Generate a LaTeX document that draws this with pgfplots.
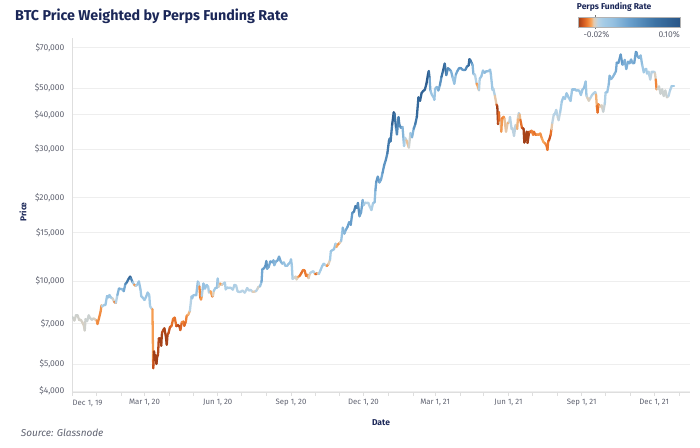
\documentclass[border=0pt]{standalone}
\usepackage{fontspec}
\setmainfont{Fira Sans}
\usepackage{pgfplots}
\usepackage{pgfplotstable}
\pgfplotsset{compat=1.18}
\definecolor{navy}{RGB}{27,39,88}
\definecolor{tickgray}{RGB}{95,98,112}
\definecolor{gridc}{RGB}{238,238,238}
\definecolor{axc}{RGB}{222,222,222}
\pgfplotsset{colormap={orbl}{
 rgb255(0pt)=(158,62,24)
 rgb255(5pt)=(205,85,30)
 rgb255(10pt)=(235,120,45)
 rgb255(15pt)=(248,165,90)
 rgb255(18pt)=(225,205,182)
 rgb255(20pt)=(212,208,198)
 rgb255(23pt)=(185,211,229)
 rgb255(30pt)=(163,203,230)
 rgb255(40pt)=(150,193,225)
 rgb255(60pt)=(105,160,205)
 rgb255(90pt)=(60,115,165)
 rgb255(120pt)=(40,85,135)
}}
\pgfplotstableread{
d p f
0 7420 1
2 7300 1
3 7190 0
5 7510 1
7 7510 1
9 7220 0
11 7240 0
13 7080 0
15 6880 -1
16 6620 0
17 7280 1
19 7150 1
21 7510 1
23 7320 1
25 7240 1
27 7320 0
29 7260 0
31 7200 -3
32 6985 -10
34 7350 -6
36 7770 -10
37 8160 -4
38 8080 3
40 8180 10
42 8190 10
44 8820 20
46 8720 15
47 8900 20
49 8700 10
51 8650 8
53 8390 -8
55 8330 -10
57 8900 20
59 9390 35
61 9350 30
63 9340 25
65 9180 20
67 9750 50
69 9900 60
71 10170 70
73 10370 90
74 10240 80
76 9900 30
78 9700 -5
80 9600 -8
82 9690 15
84 9960 20
86 9310 15
87 8790 12
89 8700 15
91 8530 12
93 8760 15
95 9080 18
97 8900 12
98 8110 8
100 7930 3
101 7910 0
102 4830 -12
103 5560 -20
104 5170 -20
105 5390 -19
106 5010 -20
107 5330 -20
108 5410 -18
109 6190 -17
110 6200 -19
111 6190 -20
112 5830 -20
113 6490 -18
115 6670 -16
116 6740 -18
118 6250 -20
119 5880 -20
120 6430 -18
121 6440 -16
123 6810 -15
125 6870 -12
127 7300 -10
129 7370 -8
131 6860 -14
133 6920 -16
135 6850 -18
136 6640 -17
138 7100 -8
140 7130 -6
141 6880 -14
143 7140 -10
144 7480 -8
146 7550 -6
148 7790 -2
150 8790 10
151 8660 15
152 8860 18
154 8900 15
156 8880 18
158 9950 22
159 9840 15
160 9550 -5
161 8730 -12
162 8570 -10
163 8820 -3
164 9320 15
165 9790 20
167 9380 15
169 9680 18
171 9520 12
172 9080 5
174 9180 2
176 8790 -12
177 8840 -8
178 9200 5
180 9430 15
182 9450 18
183 10200 20
184 9520 5
186 9790 -5
188 9670 -6
190 9780 5
192 9870 10
193 9320 5
195 9470 8
197 9430 6
199 9460 8
202 9300 5
204 9680 8
206 9630 6
208 9160 4
210 9120 5
212 9140 4
214 9230 4
217 9070 3
220 9430 5
222 9240 4
224 9290 4
227 9130 2
229 9150 -6
231 9180 3
233 9370 5
234 9520 -4
236 9550 5
238 9930 30
239 11030 40
241 11100 40
243 11350 45
244 11800 55
245 11070 35
247 11230 30
249 11770 40
252 11680 35
253 11880 40
254 11400 20
256 11750 30
258 11850 30
260 12250 40
262 11780 30
264 11550 25
266 11670 20
268 11330 18
270 11330 18
272 11540 18
274 11680 20
275 11970 20
276 11410 15
277 10170 5
279 10280 1
281 10370 0
282 10130 0
284 10350 -3
286 10440 -10
288 10680 -12
290 10950 -10
292 10930 -8
294 10420 -12
296 10530 -8
297 10240 -6
299 10690 2
301 10780 5
303 10840 5
305 10620 3
306 10570 -14
308 10680 -10
310 10600 5
312 10930 10
314 11300 12
316 11550 12
318 11430 10
320 11320 -5
322 11510 -8
324 11920 5
325 12820 15
327 12930 15
329 13030 20
331 13650 15
332 13270 -3
334 13560 -6
336 13740 -8
338 13950 5
340 15590 30
342 14830 25
344 15330 30
346 15700 40
348 16320 40
350 15960 35
352 17650 50
354 17800 50
356 18680 70
358 18370 60
359 19160 60
361 17150 40
363 17720 35
365 19630 40
366 18800 20
368 19200 8
370 19150 3
372 19190 5
374 18550 3
376 18050 5
378 19140 10
380 19270 15
381 21310 30
382 22800 45
384 23860 50
386 22720 35
388 23240 30
390 24660 40
392 26270 50
394 27360 45
396 29000 60
398 32130 70
399 32780 60
400 31970 50
402 36770 80
404 40780 100
405 40250 90
407 35570 50
408 33920 40
410 39190 70
411 36830 55
413 35830 50
415 36080 45
417 30830 10
418 33010 5
420 32290 2
423 30400 -8
425 34320 10
427 33110 15
429 35520 40
431 36930 60
433 39270 70
435 46200 90
437 44880 80
439 47910 90
441 48720 85
443 49200 80
445 51680 90
447 55900 100
448 57500 95
449 54100 50
450 48900 20
452 47100 15
454 46300 15
455 45240 12
456 49600 20
458 50400 25
460 48900 25
462 51200 40
464 54880 60
466 57800 80
468 61200 90
470 55600 50
472 58900 60
474 58300 50
476 57400 40
478 54500 20
480 51700 10
482 55900 30
484 57600 40
486 58900 40
488 59000 50
490 58200 45
492 58000 40
494 58100 50
496 59800 60
498 60200 70
499 63500 90
500 63100 80
502 61400 50
503 60400 35
504 56150 20
506 55800 15
508 51800 -5
509 51100 -8
511 49000 0
512 54000 10
514 55000 15
516 57750 20
518 56600 20
519 57200 25
521 57400 25
523 57500 20
525 58200 20
526 55800 18
528 49150 10
529 49700 8
531 46800 5
533 43500 -10
534 42900 -20
535 37000 -20
536 40800 -15
537 37400 -8
538 37500 0
539 34700 -3
540 38800 -10
542 39300 -8
543 38500 -6
545 34700 0
547 37300 -5
549 37600 -3
550 39200 5
552 35500 3
553 35800 5
555 33500 0
557 36700 5
559 35500 -3
560 39000 -5
561 40500 5
562 40100 3
563 38300 -10
565 35800 -12
567 35600 -18
568 31700 -20
569 32500 -20
571 34700 -18
572 31600 -20
574 34700 -18
575 34500 -15
577 35000 -10
579 33800 -8
580 34700 -10
582 33800 -12
584 33900 -8
586 33800 -6
588 34200 -8
590 32800 -6
592 31800 -4
594 31500 -6
596 30800 -10
597 29800 -12
598 32100 -8
599 32300 -14
601 33800 -16
602 35400 -5
603 37300 0
605 40000 5
606 40000 3
608 41600 5
610 39200 2
611 38200 0
613 40900 5
615 44600 12
617 46300 15
619 45600 12
621 47800 15
622 47100 15
624 45900 12
626 44800 10
628 49300 18
630 49300 18
631 49500 20
633 48900 15
635 49000 15
637 48800 15
639 47100 12
641 49300 15
643 50000 18
645 52700 25
646 46800 5
647 46100 0
649 44900 -3
651 46000 2
653 47100 5
655 47800 5
657 48300 8
658 47300 0
659 43000 -8
660 40700 -12
661 43600 -10
663 42800 -5
665 43200 0
667 41000 0
669 43800 3
670 48100 10
672 48200 15
674 51500 20
675 55300 30
677 53800 25
679 54700 25
681 56000 25
683 57400 30
684 61700 40
686 61500 40
688 64300 45
689 66000 50
691 60700 35
693 61000 30
694 63100 35
696 58500 25
698 62200 35
700 61300 30
702 63300 35
704 61400 30
706 61500 30
708 67500 45
709 67000 45
710 64900 35
712 64100 30
714 65500 30
716 60400 15
718 56900 10
719 58100 12
721 58600 12
722 56300 8
724 57200 10
726 53600 0
728 57200 5
730 57000 5
731 57200 5
732 56500 3
733 53600 -5
734 49400 -12
735 49400 -3
737 50600 2
739 47600 0
741 49400 2
743 46700 0
745 48900 2
747 46200 0
749 46700 1
751 49000 5
753 50800 8
755 50800 12
756 50800 12
}\btc
\begin{document}
\begin{tikzpicture}
\path[use as bounding box] (0,0) rectangle (700pt,447pt);
\begin{axis}[
  at={(72pt,55pt)}, anchor=south west,
  scale only axis, width=618pt, height=354pt,
  ymode=log, xmin=0, xmax=776, ymin=3965, ymax=75770,
  ytick={4000,5000,7000,10000,15000,20000,30000,40000,50000,70000},
  yticklabels={{\$4,000},{\$5,000},{\$7,000},{\$10,000},{\$15,000},{\$20,000},{\$30,000},{\$40,000},{\$50,000},{\$70,000}},
  yminorticks=false,
  xtick={0,91,183,275,366,456,548,640,731},
  xticklabels={{},{Mar 1, 20},{Jun 1, 20},{Sep 1, 20},{Dec 1, 20},{Mar 1, 21},{Jun 1, 21},{Sep 1, 21},{Dec 1, 21}},
  minor xtick={31,62,122,152,213,244,305,336,397,428,487,517,578,609,670,701,762},
  tick align=outside, major tick length=4pt, minor tick length=4pt,
  xtick style={draw=axc, line width=0.6pt},
  minor x tick style={draw=axc, line width=0.6pt},
  ytick style={draw=none},
  axis lines*=left, axis line style={draw=axc, line width=0.6pt},
  ymajorgrids, major grid style={draw=gridc, line width=0.6pt},
  yticklabel style={font=\fontsize{8.5}{10}\selectfont, text=tickgray},
  xticklabel style={font=\fontsize{7.8}{10}\selectfont, text=tickgray},
  xlabel={\bfseries Date},
  label style={font=\fontsize{8.5}{10}\selectfont, text=navy},
  xlabel style={at={(0.5,0)}, anchor=center, yshift=-31pt},
  colormap name=orbl,
  point meta min=-20, point meta max=100,
  colorbar horizontal,
  colorbar style={
    at={(parent axis.south west)}, anchor=south west,
    xshift=506.3pt, yshift=373.2pt,
    scale only axis, width=101.7pt, height=10pt,
    xtick={0}, xticklabels={}, major tick length=2pt,
    xtick style={draw=black!55, line width=0.7pt},
    axis line style={draw=black!30},
    tick align=outside,
  },
]
\addplot[mesh, line width=2.3pt, line cap=round, line join=round, point meta=explicit]
  table[x=d, y=p, meta=f] {\btc};
\end{axis}
\node[anchor=base west, text=tickgray, font=\fontsize{7.8}{10}\selectfont, inner sep=0pt] at (72.5pt,41.5pt) {Dec 1, 19};
\node[rotate=90, anchor=center, text=navy, font=\fontsize{8.5}{10}\selectfont\bfseries] at (23pt,235pt) {Price};
\node[anchor=base west, text=navy, font=\fontsize{14.3}{16}\selectfont\bfseries, inner sep=0pt] at (15pt,426.3pt) {BTC Price Weighted by Perps Funding Rate};
\node[anchor=base west, text=navy, font=\fontsize{8.5}{10}\selectfont\bfseries, inner sep=0pt] at (576.7pt,437pt) {Perps Funding Rate};
\node[anchor=base west, text=tickgray, font=\fontsize{8.5}{10}\selectfont, inner sep=0pt] at (583.3pt,409.7pt) {-0.02\%};
\node[anchor=base east, text=tickgray, font=\fontsize{8.5}{10}\selectfont, inner sep=0pt] at (680pt,409.7pt) {0.10\%};
\node[anchor=base west, text=tickgray, font=\fontsize{10}{12}\selectfont\itshape, inner sep=0pt] at (20.7pt,10.2pt) {Source: Glassnode};
\end{tikzpicture}
\end{document}
